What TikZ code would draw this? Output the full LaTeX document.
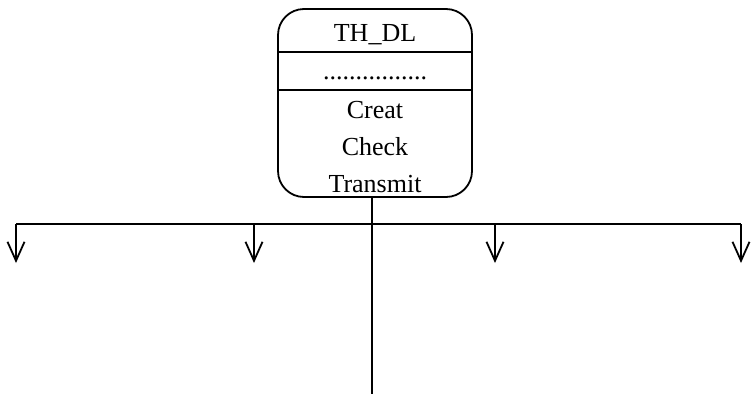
\documentclass[tikz,border=0pt]{standalone}
\usepackage{fontspec}
\setmainfont{Liberation Serif}
\usetikzlibrary{arrows.meta}
\begin{document}
\begin{tikzpicture}[x=1pt, y=-1pt, line width=1.8pt,
  classbox/.style={draw, rounded corners=26pt, minimum width=194pt, minimum height=188pt},
  txt/.style={font=\fontsize{26}{30}\selectfont, inner sep=0pt, anchor=base},
  down/.style={-{Straight Barb[length=19pt,width=17pt]}}]

  \useasboundingbox (0,0) rectangle (751,394);

  \node[classbox] (cls) at (375,103) {};

  \draw (cls.west |- 0,52) -- (cls.east |- 0,52);
  \draw (cls.west |- 0,90) -- (cls.east |- 0,90);

  \node[txt] (name) at (375,41) {TH\_DL};
  \node[txt] (attr) at (375,79) {................};
  \node[txt] (op1) at (375,118) {Creat};
  \node[txt] (op2) at (375,155) {Check};
  \node[txt] (op3) at (375,192) {Transmit};

  %% stem and bus
  \coordinate (stem) at (372,394);
  \draw (cls.south -| stem) -- (stem);

  \foreach \x [count=\i] in {16,254,495,741} {
    \coordinate (top\i) at (\x,224);
    \coordinate (tip\i) at (\x,263);
    \draw[down] (top\i) -- (tip\i);
  }
  \draw (top1) -- (top4);
\end{tikzpicture}
\end{document}
